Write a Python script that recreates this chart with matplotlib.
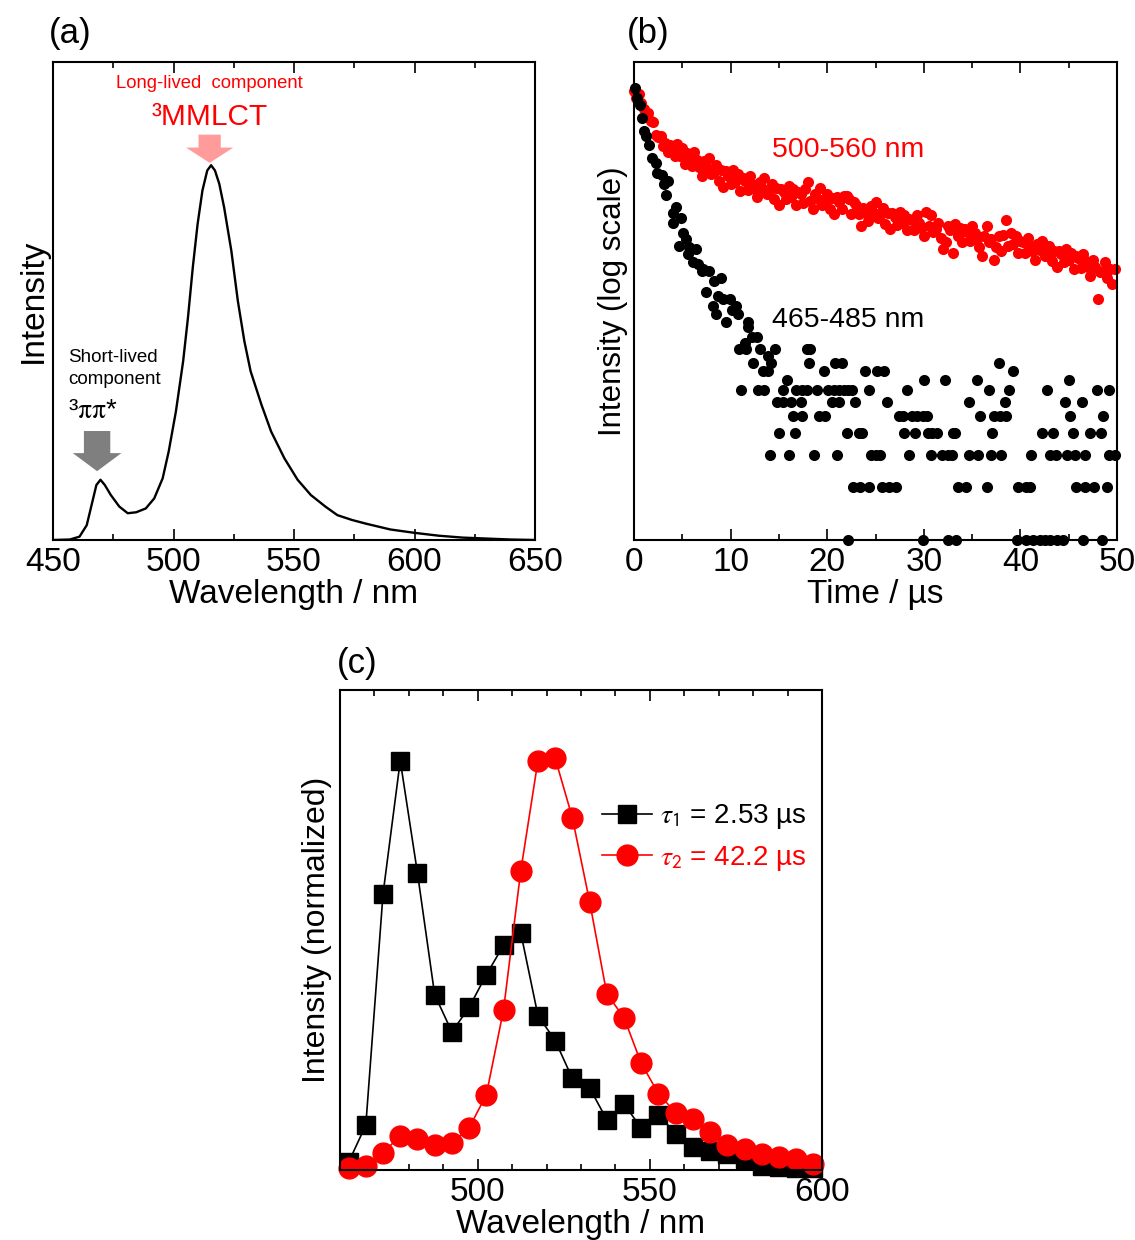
import numpy as np
import matplotlib
matplotlib.use('Agg')
import matplotlib.pyplot as plt
from matplotlib.ticker import MultipleLocator, NullLocator

plt.rcParams['font.family'] = ['Liberation Sans', 'DejaVu Sans']
plt.rcParams['mathtext.fontset'] = 'stix'

# ---- (a) steady-state emission spectrum ----
wl_a = [450, 457, 461, 464, 466, 468, 469.7, 471.5, 474, 477.5, 481, 484.5, 488.5,
        492, 495.5, 498, 501, 504, 506, 508, 510, 512, 514, 515.6, 517.2, 519, 521,
        524, 526.7, 529.4, 532, 536.5, 540.5, 546, 551.5, 557, 563, 568, 574, 580,
        590, 600, 610, 620, 630, 640, 650]
int_a = [0, 0.001, 0.007, 0.031, 0.073, 0.115, 0.126, 0.115, 0.094, 0.070, 0.056,
         0.058, 0.066, 0.087, 0.129, 0.185, 0.269, 0.374, 0.465, 0.570, 0.661, 0.731,
         0.773, 0.784, 0.773, 0.745, 0.696, 0.605, 0.500, 0.416, 0.353, 0.283, 0.227,
         0.171, 0.126, 0.094, 0.070, 0.052, 0.042, 0.034, 0.022, 0.015, 0.009, 0.005,
         0.003, 0.001, 0.0]

# ---- (b) decay traces (counts, log scale) ----
t_red = np.arange(0, 50, 0.25)
cnt_red = [345, 312, 328, 295, 270, 245, 257, 232,
           230, 194, 188, 191, 167, 175, 155, 169,
           163, 147, 173, 148, 163, 132, 153, 147,
           130, 155, 139, 128, 114, 138, 127, 144,
           116, 119, 131, 106, 122, 98, 121, 113,
           103, 122, 105, 116, 94, 110, 107, 95,
           114, 103, 96, 86, 105, 97, 110, 90,
           93, 102, 84, 97, 78, 96, 92, 84,
           100, 86, 96, 78, 92, 90, 80, 96,
           105, 82, 74, 90, 84, 97, 78, 81,
           90, 74, 85, 69, 86, 81, 74, 88,
           88, 84, 69, 81, 78, 69, 59, 75,
           70, 63, 77, 71, 81, 66, 68, 75,
           61, 70, 57, 70, 67, 60, 71, 62,
           68, 56, 65, 64, 56, 68, 62, 58,
           52, 71, 59, 68, 55, 57, 62, 51,
           44, 48, 59, 56, 42, 61, 52, 58,
           48, 57, 55, 49, 59, 54, 50, 45,
           40, 52, 59, 48, 50, 38, 45, 52,
           43, 53, 64, 46, 54, 47, 52, 42,
           49, 48, 42, 51, 46, 43, 38, 47,
           43.5, 49, 40, 41, 46, 37.5, 43, 35,
           43, 41, 37, 44, 38, 42, 34, 40,
           39, 34.5, 41, 37.5, 35, 31, 38, 35,
           23, 32.5, 33, 37, 30, 34, 28, 34]

t_blk_early = [0.07, 0.35, 0.63, 0.87, 1.04, 1.2, 1.56, 1.9, 2.26, 2.43, 2.95, 3.1,
               3.3, 3.47, 3.99, 4.0, 4.34, 4.69, 4.86, 5.03, 5.4, 5.6, 5.7, 6.1, 6.4,
               6.6, 7.0, 7.1, 7.5, 7.8, 8.2, 8.3, 8.5, 8.7, 9.0, 9.2, 9.55, 9.9, 10.1,
               10.6, 10.8, 10.9, 11.5, 11.6, 11.8, 11.8, 12.2, 12.3, 12.7, 13.0, 13.4,
               13.9, 13.9, 14.2, 14.6]
cnt_blk_early = [356, 313, 287, 241, 203, 190, 171, 143, 134, 118, 115, 103,
                 89, 106, 62, 70, 76, 46, 66, 54, 50, 41, 45, 37, 44,
                 36, 33, 34, 25, 33, 21, 29, 19, 24, 30, 23, 17, 23, 20,
                 21, 19, 12, 13, 12, 17, 16, 14, 10, 14, 12, 9,
                 11, 9, 10, 12]

# photon-count rows of the short-lived trace: times at each integer count
blk_rows = {
    12: [17.9, 18.2],
    10: [18.1, 20.8, 21.5, 37.8],
    9: [19.7, 23.9, 25.2, 25.9, 39.2],
    8: [15.8, 30.0, 32.2, 35.5, 45.0],
    7: [11.1, 12.85, 13.5, 15.45, 16.8, 17.4, 17.9, 18.9, 20.1, 20.7, 21.2, 21.7,
        22.2, 22.6, 24.3, 28.3, 36.8, 38.8, 42.8, 47.9, 49.2],
    6: [14.8, 15.4, 16.3, 17.3, 20.5, 21.2, 22.9, 26.2, 34.65, 38.4, 44.6, 46.4],
    5: [16.5, 17.4, 19.1, 19.8, 27.4, 27.8, 28.8, 29.3, 29.9, 30.3, 35.8, 37.3, 37.9,
        38.5, 45.1, 48.5],
    4: [15.0, 16.7, 22.0, 23.3, 23.6, 27.95, 29.1, 30.4, 30.9, 31.4, 33.0, 33.2, 37.1,
        42.2, 43.4, 45.4, 47.2, 48.3],
    3: [14.1, 16.0, 18.6, 21.0, 24.5, 25.0, 25.5, 28.5, 30.7, 31.9, 32.5, 32.9, 34.7,
        35.6, 37.0, 38.0, 41.1, 43.1, 43.7, 44.8, 45.7, 46.7, 49.2, 49.8],
    2: [22.7, 23.4, 24.3, 25.7, 26.4, 27.1, 33.5, 34.4, 36.5, 39.8, 40.6, 41.0, 45.8,
        46.7, 47.6, 49.0],
    1: [22.2, 29.9, 32.5, 33.3, 39.6, 40.6, 41.3, 42.0, 42.5, 43.1, 43.8, 44.4, 46.5,
        48.4],
}

# ---- (c) decay-associated spectra ----
wl_c = [462.5, 467.5, 472.5, 477.5, 482.5, 487.5, 492.5, 497.5, 502.5, 507.5,
        512.5, 517.5, 522.5, 527.5, 532.5, 537.5, 542.5, 547.5, 552.5, 557.5,
        562.5, 567.5, 572.5, 577.5, 582.5, 587.5, 592.5, 597.5]
das_short = [0.014, 0.105, 0.671, 0.997, 0.722, 0.424, 0.333, 0.393, 0.473, 0.545,
             0.576, 0.373, 0.312, 0.219, 0.196, 0.118, 0.156, 0.098, 0.130, 0.084,
             0.051, 0.042, 0.033, 0.023, 0.005, 0.002, 0.0, 0.0]
das_long = [0.0, 0.005, 0.037, 0.079, 0.070, 0.056, 0.061, 0.098, 0.179, 0.387,
            0.727, 0.997, 1.003, 0.857, 0.652, 0.426, 0.368, 0.256, 0.182, 0.135,
            0.121, 0.089, 0.056, 0.047, 0.033, 0.028, 0.023, 0.009]
tau_labels = [r'$\tau_\mathsf{1}$ = 2.53 µs', r'$\tau_\mathsf{2}$ = 42.2 µs']

W, H = 1135, 1240
fig = plt.figure(figsize=(W / 100, H / 100), dpi=100)


def frame(ax):
  for s in ax.spines.values():
    s.set_linewidth(1.5)
  ax.tick_params(axis='x', which='both', direction='in', top=True, labelsize=24,
                 width=1.2, pad=5)
  ax.tick_params(axis='x', which='major', length=8)
  ax.tick_params(axis='x', which='minor', length=4)
  ax.set_yticks([])
  ax.yaxis.set_minor_locator(NullLocator())


# (a)
ax_a = fig.add_axes([53 / W, 1 - 540 / H, 482 / W, 478 / H])
ax_a.plot(wl_a, int_a, color='black', lw=1.7)
ax_a.set_xlim(450, 650)
ax_a.set_ylim(0, 1)
ax_a.xaxis.set_major_locator(MultipleLocator(50))
ax_a.xaxis.set_minor_locator(MultipleLocator(25))
frame(ax_a)
ax_a.set_xlabel('Wavelength / nm', fontsize=24, labelpad=1)
ax_a.set_ylabel('Intensity', fontsize=24, labelpad=3)
ax_a.text(515, 0.956, 'Long-lived  component', color='red', fontsize=13.3,
          ha='center', va='center', transform=ax_a.get_xaxis_transform())
ax_a.text(515, 0.885, '³MMLCT', color='red', fontsize=21.5, ha='center', va='center',
          transform=ax_a.get_xaxis_transform())
ax_a.annotate('', xy=(515, 0.789), xytext=(515, 0.848),
              xycoords=('data', 'axes fraction'), textcoords=('data', 'axes fraction'),
              arrowprops=dict(arrowstyle='simple,head_width=34,head_length=11,tail_width=16',
                              mutation_scale=1, color='#FF9B9B', lw=0,
                              shrinkA=0, shrinkB=0))
ax_a.text(456.3, 0.358, 'Short-lived\ncomponent', fontsize=13.5, ha='left',
          va='center', linespacing=1.4, transform=ax_a.get_xaxis_transform())
ax_a.text(456.3, 0.27, '³$\\mathrm{\\pi\\pi}$*', fontsize=20, ha='left', va='center',
          transform=ax_a.get_xaxis_transform())
ax_a.annotate('', xy=(468.3, 0.144), xytext=(468.3, 0.228),
              xycoords=('data', 'axes fraction'), textcoords=('data', 'axes fraction'),
              arrowprops=dict(arrowstyle='simple,head_width=35,head_length=13,tail_width=19',
                              mutation_scale=1, color='#7F7F7F', lw=0,
                              shrinkA=0, shrinkB=0))
fig.text(49 / W, 1 - 33 / H, '(a)', fontsize=25, ha='left', va='center')

# (b)
ax_b = fig.add_axes([634 / W, 1 - 540 / H, 483 / W, 478 / H])
ax_b.set_yscale('log')
ax_b.plot(t_red, cnt_red, 'o', color='red', ms=8, mec='none', clip_on=False)
ax_b.plot(t_blk_early, cnt_blk_early, 'o', color='black', ms=8, mec='none',
          clip_on=False)
for c, ts in blk_rows.items():
  ax_b.plot(ts, [c] * len(ts), 'o', color='black', ms=8, mec='none', clip_on=False)
ax_b.set_xlim(0, 50)
ax_b.set_ylim(1, 500)
ax_b.xaxis.set_major_locator(MultipleLocator(10))
ax_b.xaxis.set_minor_locator(MultipleLocator(5))
frame(ax_b)
ax_b.set_xlabel('Time / µs', fontsize=24, labelpad=1)
ax_b.set_ylabel('Intensity (log scale)', fontsize=22.5, labelpad=4)
ax_b.text(0.286, 0.816, '500-560 nm', color='red', fontsize=20.5, ha='left',
          va='center', transform=ax_b.transAxes)
ax_b.text(0.286, 0.46, '465-485 nm', color='black', fontsize=20.5, ha='left',
          va='center', transform=ax_b.transAxes)
fig.text(627 / W, 1 - 33 / H, '(b)', fontsize=25, ha='left', va='center')

# (c)
ax_c = fig.add_axes([340 / W, 1 - 1170 / H, 482 / W, 480 / H])
ax_c.plot(wl_c, das_short, '-s', color='black', lw=1.2, ms=13.5, label=tau_labels[0],
          clip_on=False)
ax_c.plot(wl_c, das_long, '-o', color='red', lw=1.2, ms=15, label=tau_labels[1],
          clip_on=False)
ax_c.set_xlim(460, 600)
ax_c.set_ylim(-0.005, 1.17)
ax_c.xaxis.set_major_locator(MultipleLocator(50))
ax_c.xaxis.set_minor_locator(MultipleLocator(10))
frame(ax_c)
ax_c.set_xlabel('Wavelength / nm', fontsize=24, labelpad=1)
ax_c.set_ylabel('Intensity (normalized)', fontsize=23, labelpad=6)
ax_c.legend(loc='upper left', bbox_to_anchor=(0.515, 0.795), frameon=False,
            fontsize=20, handlelength=1.8, handletextpad=0.3, labelspacing=0.45,
            borderpad=0, labelcolor='linecolor')
fig.text(337 / W, 1 - 663 / H, '(c)', fontsize=25, ha='left', va='center')

fig.savefig('out.png', dpi=100)
